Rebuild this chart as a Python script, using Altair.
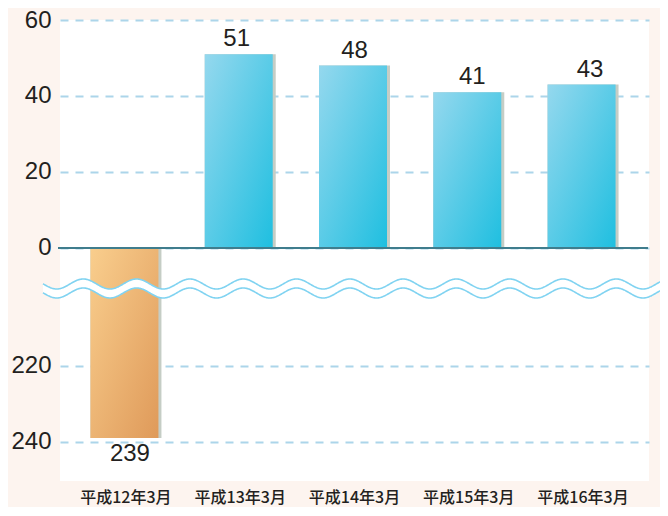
import altair as alt
import pandas as pd

# ---- data ----
categories = ["平成12年3月", "平成13年3月", "平成14年3月", "平成15年3月", "平成16年3月"]
values = [-239, 51, 48, 41, 43]          # first one lies below the axis break
upper_ticks = [60, 40, 20, 0]
lower_ticks = [220, 240]                  # shown below the break

BREAK = 189.0   # amount hidden by the wavy break
df = pd.DataFrame({"cat": categories, "value": values})

tick_vals = upper_ticks + [-(t - BREAK) for t in lower_ticks]

TEXT = "#231f20"
blue_grad = alt.Gradient(
    gradient="linear", x1=0, y1=0, x2=1, y2=1,
    stops=[alt.GradientStop(color="#95d8ee", offset=0),
           alt.GradientStop(color="#1fbfe0", offset=1)],
)
orange_grad = alt.Gradient(
    gradient="linear", x1=0, y1=0, x2=1, y2=1,
    stops=[alt.GradientStop(color="#f9ce8d", offset=0),
           alt.GradientStop(color="#df9a5a", offset=1)],
)

y_scale = alt.Scale(domain=[-61.32, 60], nice=False, zero=False)
x_scale = alt.Scale(domain=categories, paddingInner=0, paddingOuter=0.077)

y_axis = alt.Axis(values=tick_vals, grid=True, gridDash=[8, 7],
                  gridColor="#acd5ea", gridWidth=2, domain=False,
                  ticks=False, labelPadding=9, labelFontSize=24,
                  labelFont="Liberation Sans", labelColor=TEXT,
                  labelExpr=f"datum.value >= 0 ? datum.value : round({BREAK} - datum.value)")
x_axis = alt.Axis(labelAngle=0, domain=False, ticks=False, grid=False,
                  labelPadding=8, labelFont="Noto Sans CJK JP",
                  labelFontSize=16, labelColor=TEXT, labelFontWeight=500)

base = alt.Chart(df).transform_calculate(
    plotval=f"datum.value >= 0 ? datum.value : datum.value + {BREAK}",
    label="abs(datum.value)",
)

X = alt.X("cat:N", sort=categories, scale=x_scale, title=None, axis=x_axis)
XT = alt.X("cat:N", sort=categories, scale=x_scale, title=None, axis=None)
Y = alt.Y("plotval:Q", scale=y_scale, title=None, axis=y_axis)

shadow = base.mark_bar(color="#c5cdc5", width=71).encode(x=X, y=Y, y2=alt.datum(0))

pos_bars = base.transform_filter("datum.value >= 0").mark_bar(
    color=blue_grad, width=68, xOffset=-1.5).encode(x=X, y=Y, y2=alt.datum(0))

neg_bars = base.transform_filter("datum.value < 0").mark_bar(
    color=orange_grad, width=68, xOffset=-1.5).encode(x=X, y=Y, y2=alt.datum(0))

zero_rule = alt.Chart(df).mark_rule(color="#3f7d8d", strokeWidth=2).encode(
    y=alt.datum(0), x=alt.value(-2), x2=alt.value(588))

pos_text = base.transform_filter("datum.value >= 0").mark_text(
    baseline="alphabetic", dy=-8, fontSize=24, font="Liberation Sans", color=TEXT).encode(
    x=XT, y=Y, text="label:N")

neg_text = base.transform_filter("datum.value < 0").mark_text(
    baseline="top", dy=4, dx=11, fontSize=24, font="Liberation Sans", color=TEXT).encode(
    x=XT, y=Y, text="label:N")

bar_group = alt.layer(shadow, pos_bars, neg_bars, zero_rule)
text_group = alt.layer(pos_text, neg_text)

# ---- decorative wavy break (two parallel waves with white between) ----
wave_src = alt.Chart(alt.sequence(-17, 613, 0.5, as_="px")).transform_calculate(
    c="5*cos(2*PI*(datum.px + 60 - 83.3)/53.3)",
).transform_calculate(
    ytop="(-36 + datum.c)/3.8",
    ybot="(-45 + datum.c)/3.8",
)
WX = alt.X("px:Q", scale=alt.Scale(domain=[0, 589], nice=False, zero=False), axis=None)
WY = alt.Y("ytop:Q", scale=y_scale, title=None, axis=y_axis)
wave_fill = wave_src.mark_area(color="white", clip=False).encode(
    x=WX, y=WY, y2="ybot:Q")
wave_top = wave_src.mark_line(color="#80d3f1", strokeWidth=1.6, clip=False).encode(
    x=WX, y=WY)
wave_bot = wave_src.mark_line(color="#80d3f1", strokeWidth=1.6, clip=False).encode(
    x=WX, y=alt.Y("ybot:Q", scale=y_scale, title=None, axis=y_axis))
wave_group = alt.layer(wave_fill, wave_top, wave_bot)

chart = alt.layer(
    bar_group, wave_group, text_group
).resolve_scale(x="independent").resolve_axis(x="independent").properties(
    width=589, height=461,
    autosize=alt.AutoSizeParams(type="none"),
    padding={"left": 52, "top": 12, "right": 11, "bottom": 26},
    background="#fdf4ef",
).configure_view(fill="white", stroke=None)

chart.save("out.html", embed_options={"renderer": "svg", "actions": False})
